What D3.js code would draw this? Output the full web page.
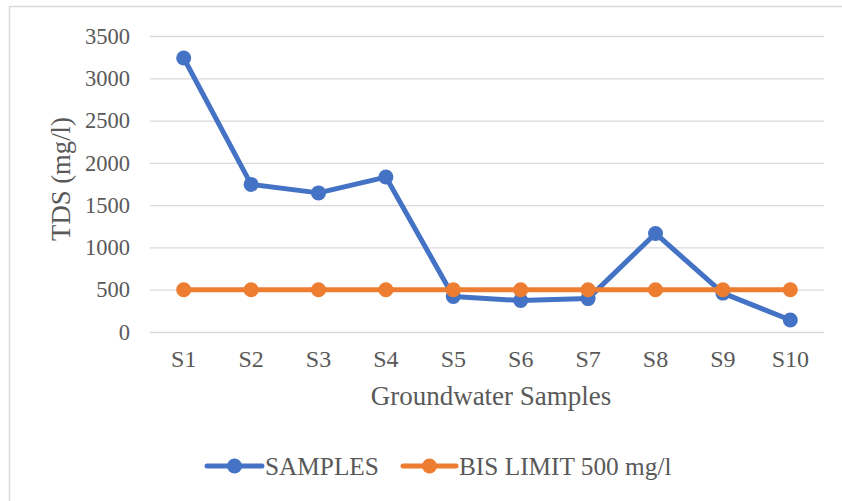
<!DOCTYPE html>
<html>
<head>
<meta charset="utf-8">
<script src="https://cdn.jsdelivr.net/npm/d3@7"></script>
<style>
  html, body { margin: 0; padding: 0; background: #fff; }
  svg { display: block; }
  svg text { font-family: "Liberation Serif", Tinos, "Times New Roman", "DejaVu Serif", serif !important; fill: #595959; }
</style>
</head>
<body>
<svg id="chart" width="842" height="501"></svg>
<script>
// Groundwater TDS readings per sample site, against the BIS limit
const categories = ["S1", "S2", "S3", "S4", "S5", "S6", "S7", "S8", "S9", "S10"];
const samples = [3240, 1745, 1645, 1832, 420, 372, 395, 1165, 460, 142];
const bisLimit = [500, 500, 500, 500, 500, 500, 500, 500, 500, 500];
const yTicks = [0, 500, 1000, 1500, 2000, 2500, 3000, 3500];
const seriesNames = ["SAMPLES", "BIS LIMIT 500 mg/l"];
const colors = ["#4472C4", "#ED7D31"];

const svg = d3.select("#chart");
const plot = { left: 150, right: 824, top: 36, bottom: 332 };

// outer chart frame
svg.append("rect")
  .attr("x", 9.5).attr("y", 6.5)
  .attr("width", 900).attr("height", 600)
  .attr("fill", "none").attr("stroke", "#D9D9D9").attr("stroke-width", 1.5);

const x = d3.scaleBand().domain(categories).range([plot.left, plot.right]);
const y = d3.scaleLinear().domain([0, 3500]).range([plot.bottom, plot.top]);

// horizontal gridlines + y labels
const yAxis = d3.axisLeft(y).tickValues(yTicks).tickFormat(d3.format("d"))
  .tickSize(-(plot.right - plot.left)).tickPadding(20);
const gy = svg.append("g").attr("transform", `translate(${plot.left},0)`).call(yAxis);
gy.attr("font-family", null);
gy.select(".domain").remove();
gy.selectAll(".tick line").attr("stroke", "#D9D9D9").attr("stroke-width", 1.3);
gy.selectAll(".tick text").attr("font-size", 22.5).attr("fill", "#595959");

// category labels
const xAxis = d3.axisBottom(x).tickSize(0).tickPadding(18);
const gx = svg.append("g").attr("transform", `translate(0,${plot.bottom})`).call(xAxis);
gx.attr("font-family", null);
gx.select(".domain").remove();
gx.selectAll(".tick text").attr("font-size", 24).attr("fill", "#595959");

// axis titles
svg.append("text")
  .attr("x", 491).attr("y", 405)
  .attr("text-anchor", "middle").attr("font-size", 27)
  .text("Groundwater Samples");

svg.append("text")
  .attr("transform", `translate(70,179) rotate(-90)`)
  .attr("text-anchor", "middle").attr("font-size", 26.7)
  .text("TDS (mg/l)");

// series lines and markers
const cx = c => x(c) + x.bandwidth() / 2;
const line = d3.line().x((d, i) => cx(categories[i])).y(d => y(d));
[samples, bisLimit].forEach((vals, s) => {
  const g = svg.append("g");
  g.append("path")
    .attr("d", line(vals))
    .attr("fill", "none")
    .attr("stroke", colors[s])
    .attr("stroke-width", 5)
    .attr("stroke-linejoin", "round")
    .attr("stroke-linecap", "round");
  g.selectAll("circle").data(vals).join("circle")
    .attr("cx", (d, i) => cx(categories[i]))
    .attr("cy", d => y(d))
    .attr("r", 7.5)
    .attr("fill", colors[s]);
});

// legend
const legendItems = [
  { x0: 207, x1: 262, tx: 265 },
  { x0: 403, x1: 456, tx: 459 }
];
const ly = 466;
legendItems.forEach((it, i) => {
  const g = svg.append("g");
  g.append("line")
    .attr("x1", it.x0).attr("x2", it.x1).attr("y1", ly).attr("y2", ly)
    .attr("stroke", colors[i]).attr("stroke-width", 5).attr("stroke-linecap", "round");
  g.append("circle")
    .attr("cx", (it.x0 + it.x1) / 2).attr("cy", ly).attr("r", 7.5)
    .attr("fill", colors[i]);
  g.append("text")
    .attr("x", it.tx).attr("y", ly + 9)
    .attr("font-size", 25.3)
    .text(seriesNames[i]);
});
</script>
</body>
</html>
